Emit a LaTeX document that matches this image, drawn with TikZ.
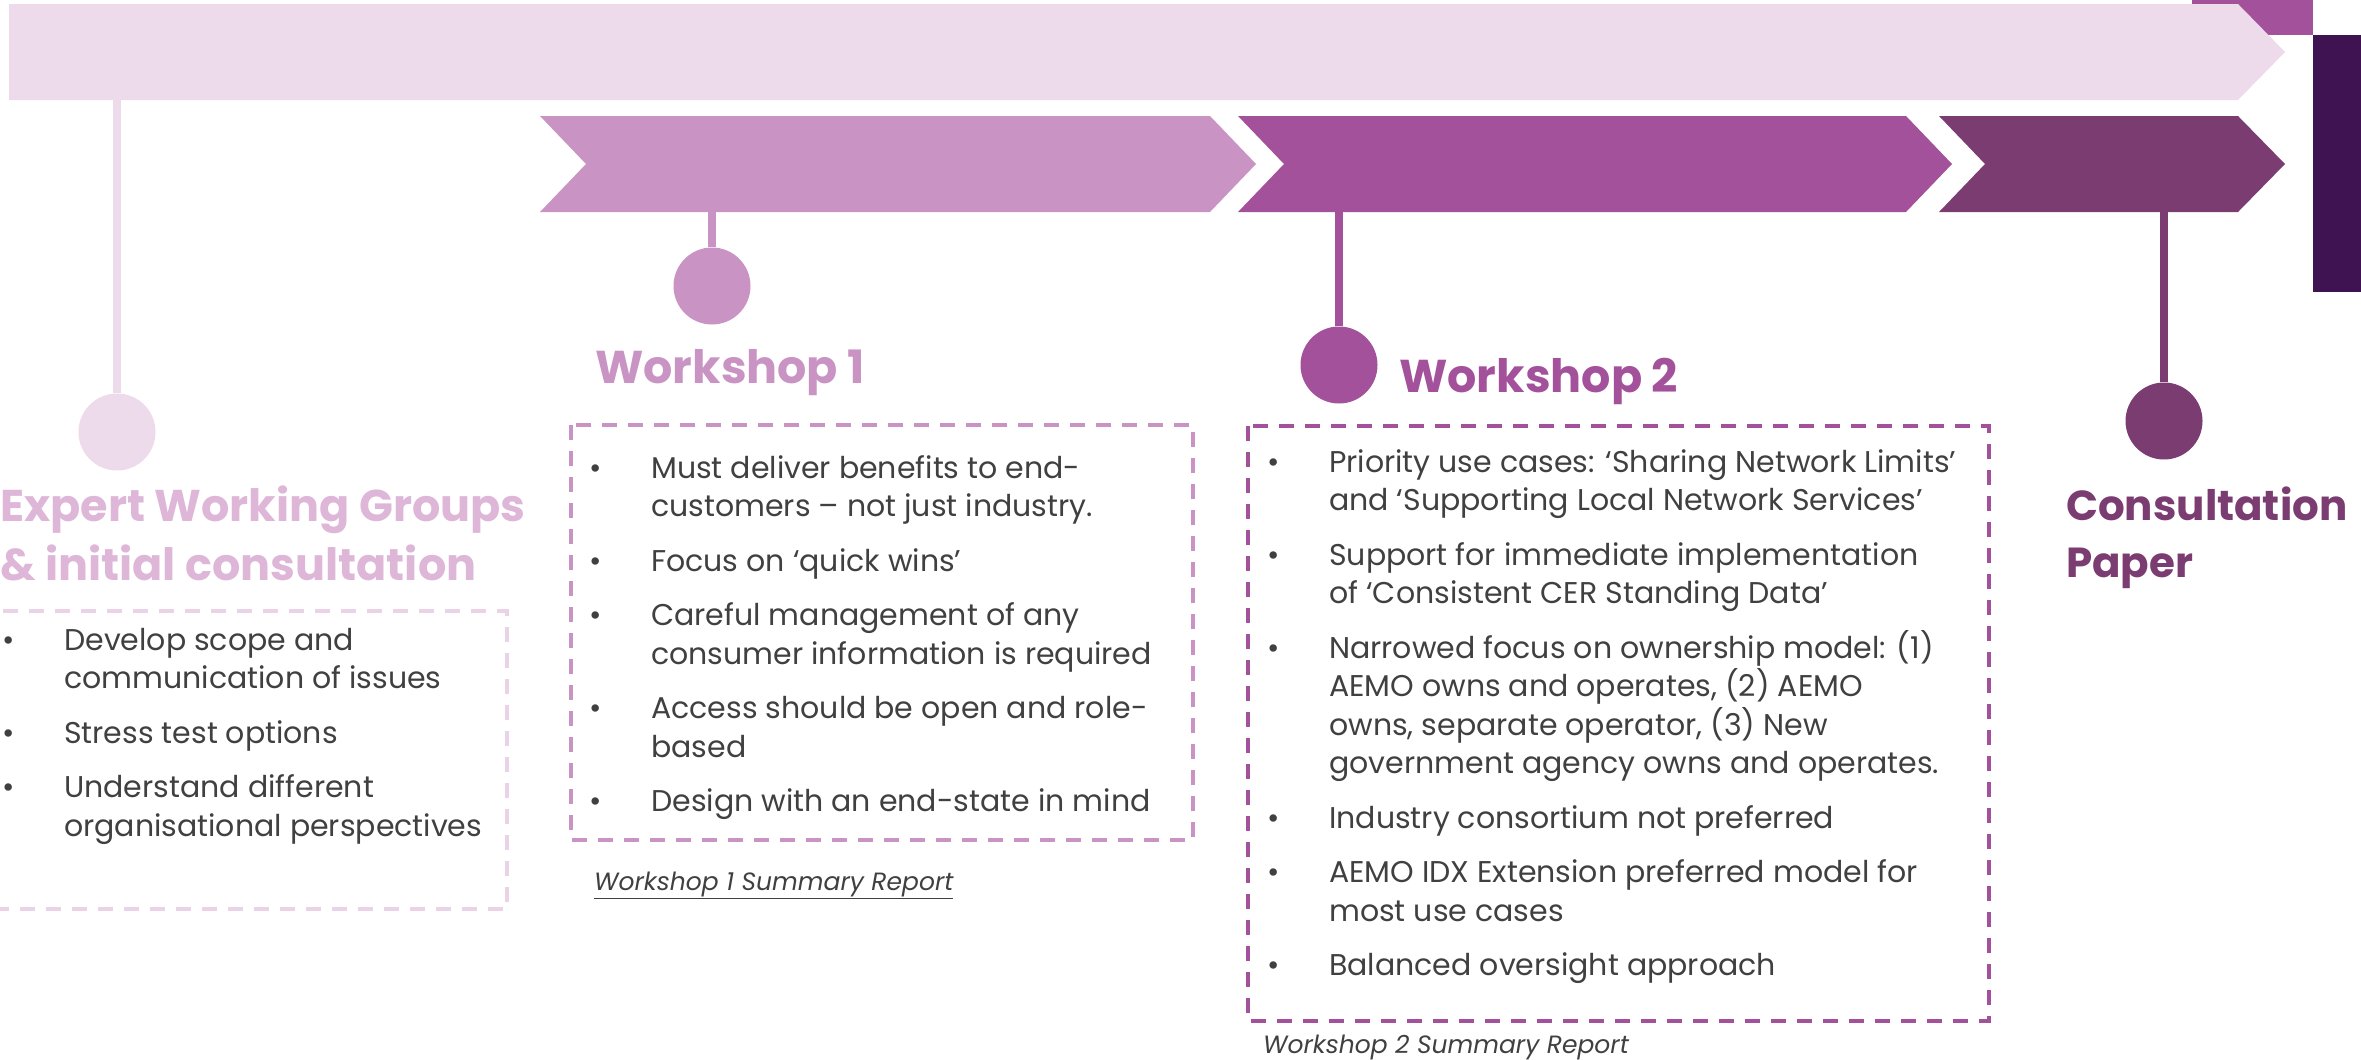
\documentclass[tikz,border=0pt]{standalone}
\usepackage{fontspec}
\setmainfont{Poppins}
\definecolor{pale}{HTML}{EDDAEA}
\definecolor{paleline}{HTML}{EAD3E6}
\definecolor{paletitle}{HTML}{DDB6D8}
\definecolor{lilac}{HTML}{C994C4}
\definecolor{plum}{HTML}{A3519A}
\definecolor{grape}{HTML}{7B3C72}
\definecolor{aubergine}{HTML}{3F1351}
\definecolor{ink}{HTML}{404040}
\newcommand\bodyfnt{\fontsize{30}{38.5}\selectfont}
\newcommand\headfnt{\fontsize{46}{56}\selectfont\bfseries}
\newcommand\linkfnt{\fontsize{25}{30}\selectfont\itshape}
\tikzset{
  body/.style={font=\bodyfnt, text=ink, align=left, anchor=base west, inner sep=0pt},
  dot/.style={font=\bodyfnt, text=ink, anchor=base, inner sep=0pt},
  head/.style={font=\headfnt, align=left, anchor=base west, inner sep=0pt},
  link/.style={font=\linkfnt, text=ink, anchor=base west, inner sep=0pt},
  stem/.style={line width=8pt},
  knob/.style={circle, minimum size=77pt, inner sep=0pt},
  frame/.style={line width=3.5pt, dash pattern=on 15pt off 11pt},
}
\begin{document}
\begin{tikzpicture}[x=1pt,y=-1pt]
\useasboundingbox (0,0) rectangle (2361,1060);
\clip (0,0) rectangle (2361,1060);
% top-right blocks
\fill[plum] (2192,0) rectangle (2313,35);
\fill[aubergine] (2313,35) rectangle (2361,292);
% long bar
\fill[pale] (9,4) -- (2238,4) -- (2285,52) -- (2238,100) -- (9,100) -- cycle;
% chevrons
\fill[lilac] (540,116) -- (1210,116) -- (1256,164) -- (1210,212) -- (540,212) -- (586,164) -- cycle;
\fill[plum] (1238,116) -- (1906,116) -- (1952,164) -- (1906,212) -- (1238,212) -- (1284,164) -- cycle;
\fill[grape] (1939,116) -- (2238,116) -- (2285,164) -- (2238,212) -- (1939,212) -- (1985,164) -- cycle;
% stem anchors
\coordinate (s0) at (117,100);
\coordinate (s1) at (712,212);
\coordinate (s2) at (1339,212);
\coordinate (s3) at (2164,212);
% knobs
\node[knob, fill=pale] (k0) at (117,432) {};
\node[knob, fill=lilac] (k1) at (712,286) {};
\node[knob, fill=plum] (k2) at (1339,365) {};
\node[knob, fill=grape] (k3) at (2164,421) {};
\draw[stem, pale] (s0) -- (k0);
\draw[stem, lilac] (s1) -- (k1);
\draw[stem, plum] (s2) -- (k2);
\draw[stem, grape] (s3) -- (k3);
% titles (anchor = baseline of last line)
\node[head, text=paletitle, font=\fontsize{44.5}{59}\selectfont\bfseries] (t0) at (0,580) {Expert Working Groups\\\& initial consultation};
\node[head, text=lilac] (t1) at (595,383) {Workshop 1};
\node[head, text=plum] (t2) at (1399,392) {Workshop 2};
\node[head, text=grape, font=\fontsize{42}{57}\selectfont\bfseries] (t3) at (2066,577) {Consultation\\Paper};
% frames
\draw[frame, paleline] (-20,611) rectangle (507,909);
\draw[frame, lilac] (571,425) rectangle (1193,840);
\draw[frame, plum] (1248,426) rectangle (1989,1021);
% box 0 items
\node[dot] (d01) at (9,650) {•};
\node[body] (b01) at (64,688.5) {Develop scope and\\communication of issues};
\node[dot] (d02) at (9,743) {•};
\node[body] (b02) at (64,743) {Stress test options};
\node[dot] (d03) at (9,797.5) {•};
\node[body] (b03) at (64,836) {Understand different\\organisational perspectives};
% box 1 items
\node[dot] (d11) at (596,478) {•};
\node[body] (b11) at (651,516.5) {Must deliver benefits to end-\\customers – not just industry.};
\node[dot] (d12) at (596,571) {•};
\node[body] (b12) at (651,571) {Focus on ‘quick wins’};
\node[dot] (d13) at (596,625.5) {•};
\node[body] (b13) at (651,664) {Careful management of any\\consumer information is required};
\node[dot] (d14) at (596,718.5) {•};
\node[body] (b14) at (651,757) {Access should be open and role-\\based};
\node[dot] (d15) at (596,811.5) {•};
\node[body] (b15) at (651,811.5) {Design with an end-state in mind};
\node[link] (l1) at (594,890) {\underline{Workshop 1 Summary Report}};
% box 2 items
\node[dot] (d21) at (1274,472) {•};
\node[body] (b21) at (1329,510.5) {Priority use cases: ‘Sharing Network Limits’\\and ‘Supporting Local Network Services’};
\node[dot] (d22) at (1274,565) {•};
\node[body] (b22) at (1329,603.5) {Support for immediate implementation\\of ‘Consistent CER Standing Data’};
\node[dot] (d23) at (1274,658) {•};
\node[body] (b23) at (1329,773.5) {Narrowed focus on ownership model: (1)\\AEMO owns and operates, (2) AEMO\\owns, separate operator, (3) New\\government agency owns and operates.};
\node[dot] (d24) at (1274,828) {•};
\node[body] (b24) at (1329,828) {Industry consortium not preferred};
\node[dot] (d25) at (1274,882.5) {•};
\node[body] (b25) at (1329,921) {AEMO IDX Extension preferred model for\\most use cases};
\node[dot] (d26) at (1274,975.5) {•};
\node[body] (b26) at (1329,975.5) {Balanced oversight approach};
\node[link] (l2) at (1263,1053) {\underline{Workshop 2 Summary Report}};
\end{tikzpicture}
\end{document}
